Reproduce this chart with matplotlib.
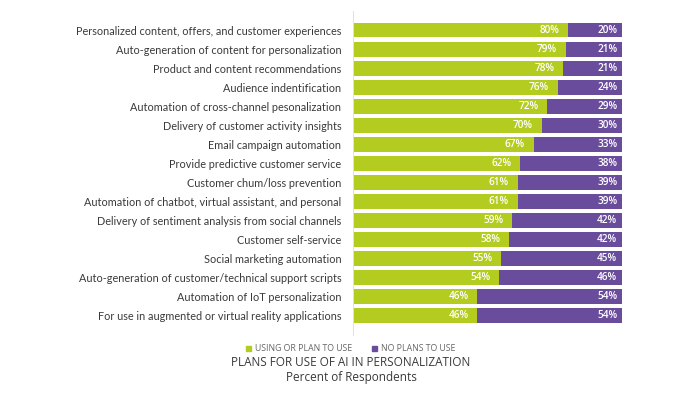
import matplotlib.pyplot as plt
import numpy as np

# Données
categories = [
    'Personalized content, offers, and customer experiences',
    'Auto-generation of content for personalization',
    'Product and content recommendations',
    'Audience indentification',
    'Automation of cross-channel pesonalization',
    'Delivery of customer activity insights',
    'Email campaign automation',
    'Provide predictive customer service',
    'Customer chum/loss prevention',
    'Automation of chatbot, virtual assistant, and personal',
    'Delivery of sentiment analysis from social channels',
    'Customer self-service',
    'Social marketing automation',
    'Auto-generation of customer/technical support scripts',
    'Automation of IoT personalization',
    'For use in augmented or virtual reality applications',
]
using = [80, 79, 78, 76, 72, 70, 67, 62, 61, 61, 59, 58, 55, 54, 46, 46]
no_plans = [20, 21, 21, 24, 29, 30, 33, 38, 39, 39, 42, 42, 45, 46, 54, 54]

vert = '#b3cc1f'
violet = '#6a4c9c'
gris = '#3a3a3a'

plt.rcParams['font.family'] = ['Open Sans', 'DejaVu Sans']

fig = plt.figure(figsize=(7, 3.94), dpi=100)
ax = fig.add_axes([0.5057, 0.174, 0.383, 0.774])

y = np.arange(len(categories))
ax.barh(y, using, height=0.78, color=vert)
ax.barh(y, [100 - u for u in using], left=using, height=0.78, color=violet)

for i in range(len(categories)):
    ax.text(using[i] - 3.2, y[i], f'{using[i]}%', color='white', fontsize=7.2,
            fontweight='semibold', ha='right', va='center')
    ax.text(98.2, y[i], f'{no_plans[i]}%', color='white', fontsize=7.2,
            fontweight='semibold', ha='right', va='center')

ax.set_xlim(0, 100)
ax.set_ylim(len(categories) - 0.5, -0.5)
ax.set_yticks(y)
ax.set_yticklabels(categories, fontsize=7.8, color=gris,
                   family=['Lato', 'DejaVu Sans'])
ax.tick_params(axis='y', length=0, pad=9)
ax.set_xticks([])
for s in ax.spines.values():
    s.set_visible(False)

# fine ligne verticale à gauche des barres
ax.plot([-0.4, -0.4], [-0.03, 1.03], transform=ax.get_xaxis_transform(),
        color='#e0e0e0', lw=0.7, clip_on=False)

# Légende
fig.patches.append(plt.Rectangle((246 / 700, 1 - 351 / 394), 5 / 700, 5 / 394,
                                 color=vert, transform=fig.transFigure))
fig.text(255 / 700, 1 - 348.5 / 394, 'USING OR PLAN TO USE', fontsize=6.3,
         color='#666666', va='center')
fig.patches.append(plt.Rectangle((372 / 700, 1 - 351 / 394), 5 / 700, 5 / 394,
                                 color=violet, transform=fig.transFigure))
fig.text(381 / 700, 1 - 348.5 / 394, 'NO PLANS TO USE', fontsize=6.3,
         color='#666666', va='center')

fig.text(351 / 700, 1 - 362 / 394, 'PLANS FOR USE OF AI IN PERSONALIZATION',
         fontsize=8.5, color=gris, ha='center', va='center')
fig.text(351 / 700, 1 - 377 / 394, 'Percent of Respondents',
         fontsize=8.5, color=gris, ha='center', va='center')

fig.savefig('out.png', dpi=100, facecolor='white')
